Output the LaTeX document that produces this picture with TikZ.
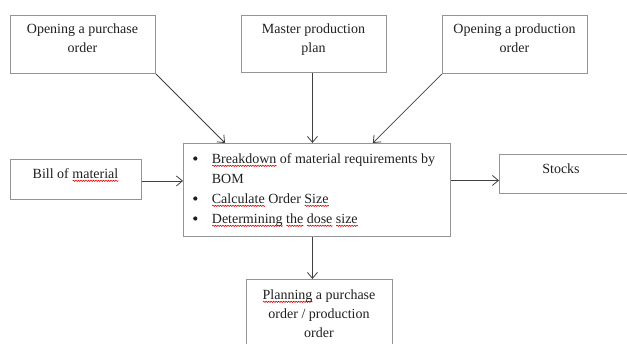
\documentclass[tikz,border=0pt]{standalone}
\usepackage{fontspec}
\setmainfont{Liberation Serif}
\usetikzlibrary{arrows.meta,decorations.pathmorphing}
\newlength\sqwlen
\newcommand\sqw[1]{\settowidth\sqwlen{#1}\rlap{\tikz[baseline=0pt]\draw[red!90!black, line width=0.6pt, decorate, decoration={snake,amplitude=0.6pt,segment length=2.5pt}] (0pt,-2.8pt) -- (\sqwlen,-2.8pt);}#1}
\newcommand\bul{\tikz[baseline=-4.5pt]\fill[black!88] (0pt,0pt) circle (2.1pt);}
\tikzset{
  box/.style={draw=black!42, line width=0.9pt, inner sep=0pt, anchor=north west},
  lbl/.style={font=\fontsize{14}{19}\selectfont, text=black!88, inner sep=0pt, align=center, anchor=base},
  conn/.style={draw=black!75, line width=0.8pt, -{Straight Barb[length=6pt,width=10pt]}}
}
\begin{document}
\begin{tikzpicture}[x=1pt,y=-1pt]
\useasboundingbox (0,0) rectangle (627,343);
% boxes
\node[box, minimum width=145pt, minimum height=58pt] (po) at (10,15) {};
\node[box, minimum width=145pt, minimum height=57pt] (mpp) at (241,15) {};
\node[box, minimum width=145pt, minimum height=58pt] (opo) at (442,15) {};
\node[box, minimum width=267pt, minimum height=93pt] (c) at (183,143) {};
\node[box, minimum width=131pt, minimum height=40pt] (bom) at (10,159) {};
\node[box, minimum width=141pt, minimum height=39pt] (st) at (499,154) {};
\node[box, minimum width=146pt, minimum height=81pt] (pl) at (246,279) {};
% texts (anchor base = baseline of the last line)
\node[lbl] (pot) at (82.5,52) {Opening a purchase\\order};
\node[lbl] (mppt) at (313.5,52) {Master production\\plan};
\node[lbl] (opot) at (514.5,52) {Opening a production\\order};
\node[lbl] (bomt) at (75.5,178) {Bill of \sqw{material}};
\node[lbl] (stt) at (561,173) {Stocks};
\node[lbl] (plt) at (319,337) {\sqw{Planning} a purchase\\order / production\\order};
\node[lbl, font=\fontsize{14}{20}\selectfont, anchor=base west, align=left] (ct) at (193,163)
  {\begin{tabular}[t]{@{}l@{\hspace{14.5pt}}l@{}}
   \bul & \sqw{Breakdown} of material requirements by\\
        & BOM\\
   \bul & \sqw{Calculate} Order \sqw{Size}\\
   \bul & \sqw{Determining} \sqw{the} \sqw{dose} \sqw{size}
   \end{tabular}};
% connectors
\draw[conn] (po.south east) -- ([xshift=42pt]c.north west);
\draw[conn] ([xshift=-1.5pt]mpp.south) -- ([xshift=-1.5pt]mpp.south |- c.north);
\draw[conn] (opo.south west) -- ([xshift=-78pt]c.north east);
\draw[conn] ([yshift=-1.5pt]bom.east) -- ([yshift=-1.5pt]bom.east -| c.west);
\draw[conn] ([yshift=9.5pt]c.east) -- ([yshift=9.5pt]c.east -| st.west);
\draw[conn] ([xshift=-4.5pt]c.south) -- ([xshift=-4.5pt]c.south |- pl.north);
\end{tikzpicture}
\end{document}
